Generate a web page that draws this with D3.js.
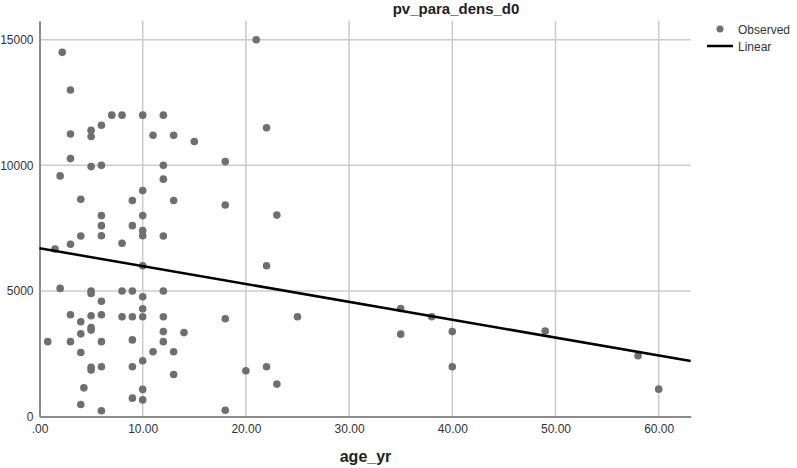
<!DOCTYPE html>
<html>
<head>
<meta charset="utf-8">
<script src="https://cdn.jsdelivr.net/npm/d3@7"></script>
<style>
  body { margin: 0; background: #fff; }
  svg { display: block; font-family: "Liberation Sans", Arial, sans-serif; }
  .axis text { fill: #333; font-size: 12px; }
  .axis path { stroke: #8c8c8c; stroke-width: 2; }
</style>
</head>
<body>
<div id="vis"></div>
<script>
// observed points (age_yr, pv_para_dens_d0)
const AGE = [
  2.2, 21, 3, 7, 8, 10, 12, 6, 3, 5, 5, 11, 13, 15, 22, 3, 18,
  2, 5, 6, 12, 12, 10, 4, 9, 13, 18, 6, 6, 6, 10, 9, 10, 10, 4, 12, 8, 3, 1.5,
  10, 22, 2, 5, 5, 8, 9, 10, 12, 6, 3, 5, 6, 8, 9, 10, 10, 12, 18, 4, 5, 5, 4,
  12, 14, 0.8, 3, 6, 9, 12, 11, 13, 4, 10, 5, 5, 6, 9, 20, 22, 13, 4.3, 10, 9,
  10, 4, 6, 18, 23, 25, 35, 38, 35, 40, 40, 23, 49, 58, 60
];
const DENS = [
  14500, 15000, 13000, 12000, 12000, 12000, 12000, 11600, 11250, 11400, 11150, 11200, 11200, 10950, 11500, 10270, 10150,
  9580, 9950, 10000, 10000, 9450, 9000, 8650, 8600, 8600, 8420, 8000, 7600, 7200, 8000, 7600, 7400, 7200, 7190, 7190, 6900, 6860, 6670,
  6000, 6000, 5100, 5000, 4900, 5000, 5000, 4770, 5000, 4590, 4050, 4010, 4050, 3970, 3970, 3970, 4290, 3970, 3890, 3770, 3540, 3440, 3290,
  3380, 3340, 2980, 2980, 2980, 3050, 2980, 2580, 2580, 2550, 2220, 1960, 1850, 1980, 1980, 1820, 1980, 1670, 1140, 1080, 730,
  660, 480, 230, 250, 8020, 3970, 4300, 3970, 3280, 3380, 1980, 1290, 3400, 2420, 1090
];

// linear fit line, end points
const FIT_X = [0, 63.1];
const FIT_Y = [6700, 2210];

const X_TICKS = [0, 10, 20, 30, 40, 50, 60];
const Y_TICKS = [0, 5000, 10000, 15000];

const WIDTH = 797;
const HEIGHT = 468;
const LEFT = 39.5, RIGHT = 690.7, TOP = 20.7, BOTTOM = 416.5;

const points = AGE.map((a, i) => ({ age: a, dens: DENS[i] }));

const x = d3.scaleLinear([0, 63.1], [LEFT, RIGHT]);
const y = d3.scaleLinear([0, 15760], [BOTTOM, TOP]);

const svg = d3.select("#vis")
  .append("svg")
    .attr("width", WIDTH)
    .attr("height", HEIGHT);

// grid
svg.append("g")
  .selectAll("line")
  .data(X_TICKS.filter(d => d > 0))
  .enter()
  .append("line")
    .attr("x1", d => x(d)).attr("x2", d => x(d))
    .attr("y1", TOP).attr("y2", BOTTOM)
    .attr("stroke", "#cbcbcb")
    .attr("stroke-width", 1.5);

svg.append("g")
  .selectAll("line")
  .data(Y_TICKS.filter(d => d > 0))
  .enter()
  .append("line")
    .attr("x1", LEFT).attr("x2", RIGHT)
    .attr("y1", d => y(d)).attr("y2", d => y(d))
    .attr("stroke", "#cbcbcb")
    .attr("stroke-width", 1.5);

// axes
const xAxis = d3.axisBottom(x)
  .tickValues(X_TICKS)
  .tickSize(0)
  .tickPadding(8)
  .tickFormat(d => d === 0 ? ".00" : d.toFixed(2));

const yAxis = d3.axisLeft(y)
  .tickValues(Y_TICKS)
  .tickSize(0)
  .tickPadding(6)
  .tickFormat(d => String(d));

svg.append("g")
  .attr("class", "axis")
  .attr("transform", `translate(0, ${BOTTOM})`)
  .call(xAxis);

svg.append("g")
  .attr("class", "axis")
  .attr("transform", `translate(${LEFT}, 0)`)
  .call(yAxis);

// points
svg.append("g")
  .selectAll("circle")
  .data(points)
  .enter()
  .append("circle")
    .attr("cx", d => x(d.age))
    .attr("cy", d => y(d.dens))
    .attr("r", 3.8)
    .attr("fill", "#6f6f6f");

// fit line
svg.append("path")
  .datum(FIT_X.map((v, i) => [v, FIT_Y[i]]))
  .attr("d", d3.line().x(d => x(d[0])).y(d => y(d[1])))
  .attr("stroke", "#000")
  .attr("stroke-width", 2.5)
  .attr("fill", "none");

// titles
svg.append("text")
  .attr("x", 456)
  .attr("y", 14)
  .attr("text-anchor", "middle")
  .attr("font-size", 15)
  .attr("font-weight", "bold")
  .attr("fill", "#222")
  .text("pv_para_dens_d0");

svg.append("text")
  .attr("x", 365.5)
  .attr("y", 462)
  .attr("text-anchor", "middle")
  .attr("font-size", 16)
  .attr("font-weight", "bold")
  .attr("fill", "#222")
  .text("age_yr");

// legend
const legend = svg.append("g");
legend.append("circle")
  .attr("cx", 720).attr("cy", 29).attr("r", 3.5)
  .attr("fill", "#6f6f6f");
legend.append("text")
  .attr("x", 738).attr("y", 33.5)
  .attr("font-size", 12).attr("fill", "#333")
  .text("Observed");
legend.append("line")
  .attr("x1", 707).attr("x2", 733)
  .attr("y1", 46).attr("y2", 46)
  .attr("stroke", "#000").attr("stroke-width", 2.5);
legend.append("text")
  .attr("x", 738).attr("y", 50.5)
  .attr("font-size", 12).attr("fill", "#333")
  .text("Linear");
</script>
</body>
</html>
